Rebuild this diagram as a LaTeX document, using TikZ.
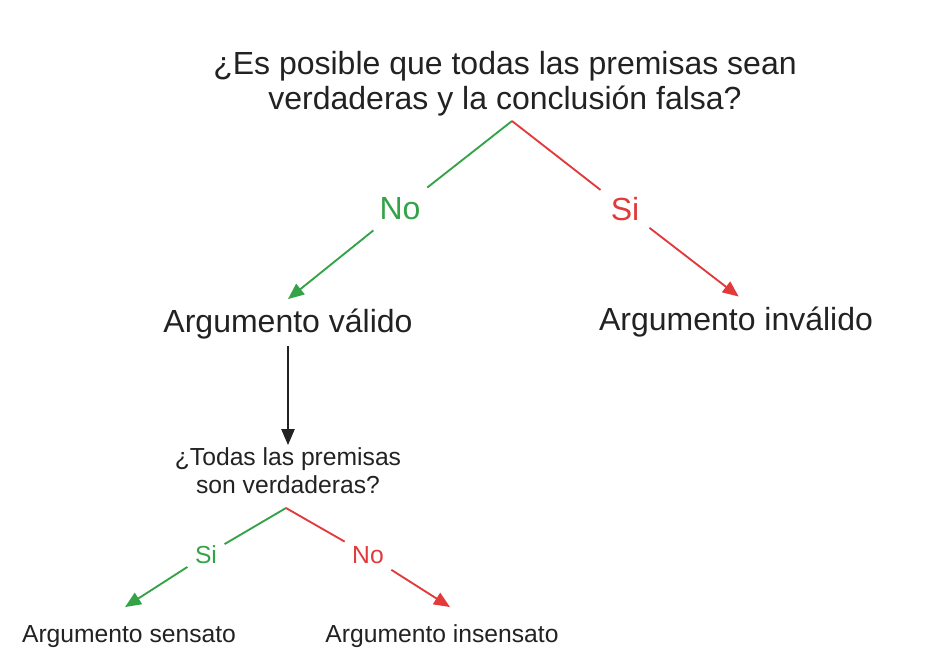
\documentclass[tikz,border=0pt]{standalone}
\usepackage{fontspec}
\setmainfont{Liberation Sans}
\usepackage{xcolor}
\usepackage{tikz}
\usetikzlibrary{arrows.meta,positioning}

\definecolor{sigreen}{RGB}{52,163,72}
\definecolor{nored}{RGB}{226,58,58}
\definecolor{txtgray}{RGB}{34,34,34}

\begin{document}
\begin{tikzpicture}[x=0.75pt, y=-0.75pt, >={Triangle[length=12pt,width=10pt]}, line width=1.4pt]
                    % Define styles
                    \tikzstyle{bigq} = [align=center, text=txtgray, font=\fontsize{24}{26.5}\selectfont, inner sep=2pt]
                    \tikzstyle{bigres} = [text=txtgray, font=\fontsize{24}{27.5}\selectfont, text height=21.75pt, text depth=6pt, inner sep=3pt]
                    \tikzstyle{smallq} = [align=center, text=txtgray, font=\fontsize{18.5}{21}\selectfont, inner sep=1.5pt]
                    \tikzstyle{smallres} = [text=txtgray, font=\fontsize{18.5}{21}\selectfont, text height=22.5pt, text depth=6pt, inner sep=3pt]
                    \tikzstyle{biglbl} = [font=\fontsize{24}{27.5}\selectfont, inner sep=7pt]
                    \tikzstyle{smalllbl} = [font=\fontsize{18.5}{21}\selectfont, inner sep=5pt]

                    \useasboundingbox (0,0) rectangle (927,666);

                    % First question and its two answers
                    \node [bigq] (q1) at (505,84) {¿Es posible que todas las premisas sean\\verdaderas y la conclusión falsa?};
                    \coordinate (split1) at (512,121);
                    \node [biglbl, text=sigreen] (no1) at (400,209) {No};
                    \node [biglbl, text=nored] (si1) at (625,209) {Si};
                    \node [bigres] (valido) at (288,322.5) {Argumento válido};
                    \node [bigres] (invalido) at (736,320) {Argumento inválido};

                    \draw [sigreen] (split1) -- (no1);
                    \draw [sigreen, ->] (no1) -- (valido.north);
                    \draw [nored] (split1) -- (si1);
                    \draw [nored, ->] (si1) -- ([xshift=2pt]invalido.north);

                    % Second question, only for valid arguments
                    \node [smallq] (q2) at (288,471) {¿Todas las premisas\\son verdaderas?};
                    \draw [txtgray, line width=1.2pt, ->] (valido) -- (q2);

                    \coordinate (split2) at (286,508);
                    \node [smalllbl, text=sigreen] (si2) at (206,555) {Si};
                    \node [smalllbl, text=nored] (no2) at (368,555) {No};
                    \node [smallres] (sensato) at (129,631) {Argumento sensato};
                    \node [smallres] (insensato) at (442,631) {Argumento insensato};

                    \draw [sigreen] (split2) -- (si2);
                    \draw [sigreen, ->] (si2) -- ([xshift=-3pt]sensato.north);
                    \draw [nored] (split2) -- (no2);
                    \draw [nored, ->] (no2) -- ([xshift=6pt]insensato.north);
                \end{tikzpicture}
\end{document}
